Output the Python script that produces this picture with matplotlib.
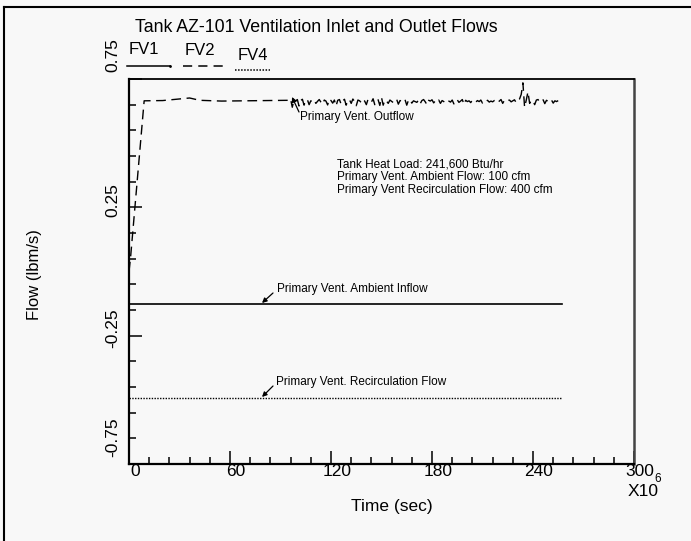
import matplotlib
matplotlib.use("Agg")
import matplotlib.pyplot as plt
from matplotlib.lines import Line2D
import numpy as np

plt.rcParams['font.family'] = ['Liberation Sans', 'DejaVu Sans']

# ---------------- data ----------------
title = "Tank AZ-101 Ventilation Inlet and Outlet Flows"
x_major = [0, 60, 120, 180, 240, 300]
x_minor = [t for t in range(0, 301, 12) if t % 60 != 0]
y_major = [-0.75, -0.25, 0.25, 0.75]
y_major_labels = ["-0.75", "-0.25", "0.25", "0.75"]
y_minor = [-0.65, -0.55, -0.45, -0.35, -0.15, -0.05, 0.05, 0.15, 0.35, 0.45, 0.55, 0.65]

# outflow: start-up and smooth plateau
out_t_start = [0, 1, 9, 20, 30, 36, 42, 55, 70, 85, 95]
out_v_start = [0.0, 0.06, 0.665, 0.666, 0.672, 0.676, 0.667, 0.664, 0.665, 0.666, 0.667]
# outflow: noisy part, 1 s samples from t=96
out_v_noisy = [
    0.672, 0.640, 0.668, 0.664, 0.670, 0.645, 0.666, 0.671, 0.648,
    0.667, 0.669, 0.650, 0.665, 0.662, 0.668, 0.655, 0.663, 0.670, 0.660,
    0.652, 0.668, 0.664, 0.649, 0.672, 0.666, 0.656, 0.668, 0.645, 0.667,
    0.670, 0.652, 0.665, 0.671, 0.648, 0.666, 0.669, 0.655, 0.672, 0.662,
    0.646, 0.668, 0.665, 0.658, 0.670, 0.664, 0.650, 0.671, 0.667, 0.660,
    0.673, 0.650, 0.666, 0.669, 0.647, 0.678, 0.648, 0.668, 0.664, 0.655,
    0.668, 0.663, 0.658, 0.667, 0.671, 0.652, 0.666, 0.664, 0.660, 0.669,
    0.648, 0.667, 0.670, 0.656, 0.665, 0.662, 0.659, 0.668, 0.654, 0.666,
    0.670, 0.661, 0.650, 0.667, 0.664, 0.669, 0.657, 0.665, 0.660, 0.668,
    0.655, 0.666, 0.662, 0.658, 0.667, 0.664, 0.660, 0.668, 0.653, 0.666,
    0.669, 0.659, 0.664, 0.670, 0.651, 0.667, 0.662, 0.665, 0.658, 0.668,
    0.664, 0.660, 0.666, 0.662, 0.668, 0.656, 0.665, 0.663, 0.667, 0.660,
    0.664, 0.661, 0.666, 0.668, 0.659, 0.664, 0.670, 0.655, 0.667, 0.663,
    0.666, 0.668, 0.661, 0.665, 0.669, 0.658, 0.666, 0.672, 0.690, 0.735,
    0.640, 0.668, 0.700, 0.655, 0.667, 0.664, 0.650, 0.668, 0.670, 0.660,
    0.666, 0.669, 0.654, 0.667, 0.663, 0.660, 0.668, 0.656, 0.665, 0.662,
    0.666, 0.660, 0.664,
]
out_t_noisy = list(range(96, 96 + len(out_v_noisy)))

ambient_t = [0, 257]
ambient_v = [-0.127, -0.127]
recirc_t = [0, 257]
recirc_v = [-0.493, -0.493]

info_lines = ["Tank Heat Load: 241,600 Btu/hr",
              "Primary Vent. Ambient Flow: 100 cfm",
              "Primary Vent Recirculation Flow: 400 cfm"]

# ---------------- figure ----------------
W, H = 691, 541
fig = plt.figure(figsize=(W / 100, H / 100), dpi=100, facecolor='#f8f8f8')

def fx(px):
    return px / W

def fy(py):
    return 1 - py / H

ax_l, ax_r, ax_t, ax_b = 129, 634, 79, 464
ax = fig.add_axes([fx(ax_l), fy(ax_b), fx(ax_r) - fx(ax_l), fy(ax_t) - fy(ax_b)])
ax.set_facecolor('#f8f8f8')
ax.set_xlim(0, 300)
ax.set_ylim(-0.75, 0.75)

out_t = out_t_start + out_t_noisy
out_v = out_v_start + out_v_noisy
ax.plot(out_t, out_v, color='black', lw=1.0, linestyle=(0, (7, 4)))
ax.plot(ambient_t, ambient_v, color='black', lw=1.2)
ax.plot(recirc_t, recirc_v, color='black', lw=1.0, linestyle=(0, (1, 1)))

# ticks
ax.set_xticks(x_major)
ax.set_xticks(x_minor, minor=True)
ax.set_yticks(y_major)
ax.set_yticks(y_minor, minor=True)
ax.set_xticklabels([])
ax.set_yticklabels([])
ax.tick_params(which='major', direction='in', length=9.5, width=1.1, color='black')
ax.tick_params(which='minor', direction='in', length=4.8, width=1.1, color='black')
ax.tick_params(top=False, right=False, which='both')

for s in ['left', 'bottom']:
    ax.spines[s].set_linewidth(1.6)
ax.spines['top'].set_linewidth(1.3)
ax.spines['right'].set_linewidth(1.8)
ax.spines['right'].set_color('#444444')

# x tick labels (manually offset like reference)
for t in x_major:
    px = ax_l + t * (ax_r - ax_l) / 300 + 6
    fig.text(fx(px), fy(472), str(t), ha='center', va='center', fontsize=12.5)

# y tick labels (rotated, shifted as in reference)
ylab_centers = {"-0.75": 437, "-0.25": 328, "0.25": 200, "0.75": 55}
for lab in y_major_labels:
    fig.text(fx(113), fy(ylab_centers[lab]), lab, rotation=90, ha='center', va='center',
             fontsize=12.5)

fig.text(fx(643), fy(492), "X10", ha='center', va='center', fontsize=12.5)
fig.text(fx(658), fy(479), "6", ha='center', va='center', fontsize=8.5)

fig.text(fx(392), fy(506), "Time (sec)", ha='center', va='center', fontsize=12.5)
fig.text(fx(34), fy(275), "Flow (lbm/s)", rotation=90, ha='center', va='center', fontsize=12)
fig.text(fx(316), fy(27), title, ha='center', va='center', fontsize=12.8)

# FV legend
fig.text(fx(129), fy(49), "FV1", ha='left', va='center', fontsize=12)
fig.text(fx(185), fy(50), "FV2", ha='left', va='center', fontsize=12)
fig.text(fx(238), fy(56), "FV4", ha='left', va='center', fontsize=12)
fig.add_artist(Line2D([fx(127), fx(170)], [fy(66), fy(66)], color='black', lw=1.1,
                      transform=fig.transFigure, marker='.', markersize=2, markevery=[1]))
fig.add_artist(Line2D([fx(183), fx(228)], [fy(66), fy(66)], color='black', lw=1.1,
                      linestyle=(0, (6, 4)), transform=fig.transFigure))
fig.add_artist(Line2D([fx(235), fx(270)], [fy(70), fy(70)], color='black', lw=1.1,
                      linestyle=(0, (1, 1)), transform=fig.transFigure))

# info text
for i, line in enumerate(info_lines):
    fig.text(fx(337), fy(164 + 13 * i), line, ha='left', va='center', fontsize=8.5)

# annotations
def arrow(tip, tail):
    ax.annotate('', xy=(fx(tip[0]), fy(tip[1])), xycoords='figure fraction',
                xytext=(fx(tail[0]), fy(tail[1])), textcoords='figure fraction',
                arrowprops=dict(arrowstyle='-|>', color='black', lw=0.9,
                                mutation_scale=7, shrinkA=0, shrinkB=0))

fig.text(fx(300), fy(117), "Primary Vent. Outflow", ha='left', va='center', fontsize=8.5)
arrow((292, 97), (299, 112))
fig.text(fx(277), fy(289), "Primary Vent. Ambient Inflow", ha='left', va='center', fontsize=8.5)
arrow((262, 303), (273, 293))
fig.text(fx(276), fy(382), "Primary Vent. Recirculation Flow", ha='left', va='center', fontsize=8.5)
arrow((262, 397), (273, 386))

# outer frame of the scanned figure
fig.add_artist(Line2D([fx(4), fx(691)], [fy(7), fy(7)], color='black', lw=1.5,
                      transform=fig.transFigure))
fig.add_artist(Line2D([fx(4), fx(4)], [fy(7), fy(541)], color='black', lw=1.5,
                      transform=fig.transFigure))

fig.savefig("out.png", dpi=100, facecolor=fig.get_facecolor())
